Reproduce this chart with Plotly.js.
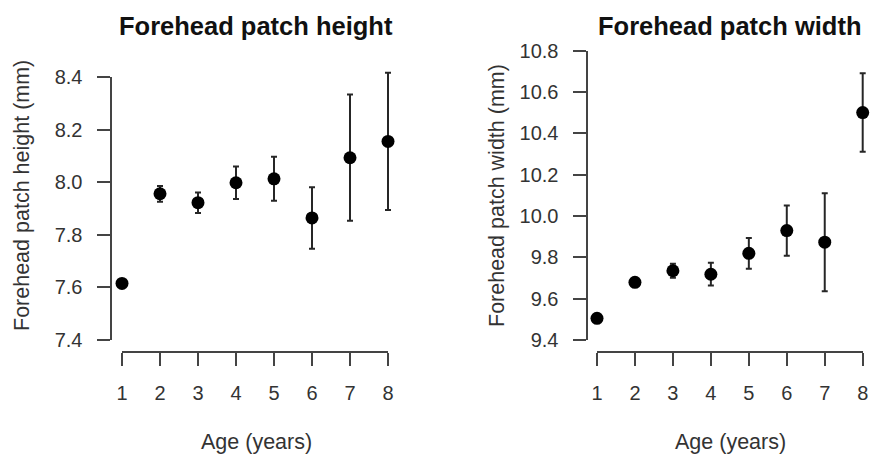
<!DOCTYPE html>
<html>
<head>
<meta charset="utf-8">
<script src="https://cdn.plot.ly/plotly-3.0.1.min.js"></script>
<style>html,body{margin:0;padding:0;background:#fff;}#chart{width:871px;height:457px;}</style>
</head>
<body>
<div id="chart"></div>
<script>
// ---- data ----
var ages = [1, 2, 3, 4, 5, 6, 7, 8];
var ageTickLabels = ['1', '2', '3', '4', '5', '6', '7', '8'];
var heightMean = [7.615, 7.956, 7.922, 7.998, 8.013, 7.864, 8.093, 8.155];
var heightErr  = [0.012, 0.030, 0.039, 0.062, 0.084, 0.117, 0.240, 0.261];
var widthMean  = [9.505, 9.679, 9.735, 9.718, 9.819, 9.929, 9.873, 10.500];
var widthErr   = [0.008, 0.012, 0.034, 0.055, 0.074, 0.122, 0.237, 0.190];
var heightTicks = [7.4, 7.6, 7.8, 8.0, 8.2, 8.4];
var widthTicks  = [9.4, 9.6, 9.8, 10.0, 10.2, 10.4, 10.6, 10.8];
var panelTitles = ['Forehead patch height', 'Forehead patch width'];
var yTitles = ['Forehead patch height (mm)', 'Forehead patch width (mm)'];
var xTitle = 'Age (years)';

// ---- layout helpers ----
var W = 871, H = 457;
function px(x) { return x / W; }
function py(y) { return 1 - y / H; }
var FONT = 'Liberation Sans, Arial, Helvetica, sans-serif';
var AX = '#444';

// linear pixel mapping helpers for panel geometry (R-style detached axes)
function panel(x1px, x8px, yLoPx, yHiPx, lo, hi, padL, padR, padY) {
  var ux = (x8px - x1px) / 7, uy = (yLoPx - yHiPx) / (hi - lo);
  return {
    axis: {x: [x1px, x8px], y: [yHiPx, yLoPx], xr: [1, 8], yr: [lo, hi]},
    data: {
      x: [x1px - padL * ux, x8px + padR * ux], xr: [1 - padL, 8 + padR],
      y: [yHiPx - padY * uy, yLoPx + padY * uy], yr: [lo - padY, hi + padY]
    }
  };
}
var P1 = panel(122, 388, 340, 77, heightTicks[0], heightTicks[heightTicks.length - 1], 0.3, 0.3, 0.1);
var P2 = panel(597, 862.7, 340, 50.5, widthTicks[0], widthTicks[widthTicks.length - 1], 0.3, 0.2, 0.1);

function dataTrace(xa, ya, yv, ev) {
  return {
    type: 'scatter', mode: 'markers', x: ages, y: yv, xaxis: xa, yaxis: ya,
    cliponaxis: false, showlegend: false, hoverinfo: 'x+y',
    marker: {color: '#000', size: 13},
    error_y: {type: 'data', array: ev, visible: true, color: '#262626', thickness: 2, width: 3}
  };
}
// invisible companion trace so the detached axis subplot is built
function axisTrace(xa, ya, yv) {
  return {
    type: 'scatter', mode: 'markers', x: ages, y: yv, xaxis: xa, yaxis: ya,
    marker: {opacity: 0}, hoverinfo: 'skip', showlegend: false
  };
}

function hiddenAx(dom, rng, isX) {
  return {
    domain: isX ? [px(dom[0]), px(dom[1])] : [py(dom[1]), py(dom[0])],
    range: rng, visible: false, fixedrange: true
  };
}
function xAx(p) {
  return {
    domain: [px(p.x[0]), px(p.x[1])], range: p.xr, anchor: 'free', position: py(352),
    showline: true, linecolor: AX, linewidth: 2, showgrid: false, zeroline: false,
    tickmode: 'array', tickvals: ages, ticktext: ageTickLabels,
    ticks: 'outside', ticklen: 13, tickwidth: 2, tickcolor: AX,
    ticklabelstandoff: 10,
    tickfont: {family: FONT, size: 20, color: '#333'}, fixedrange: true
  };
}
function yAx(p, xpos, tv) {
  return {
    domain: [py(p.y[1]), py(p.y[0])], range: p.yr, anchor: 'free', position: px(xpos),
    showline: true, linecolor: AX, linewidth: 2, showgrid: false, zeroline: false,
    tickmode: 'array', tickvals: tv, ticktext: tv.map(function (v) { return v.toFixed(1); }),
    ticks: 'outside', ticklen: 13, tickwidth: 2, tickcolor: AX,
    ticklabelstandoff: 10,
    tickfont: {family: FONT, size: 20, color: '#333'}, fixedrange: true
  };
}

var data = [
  axisTrace('x3', 'y3', heightMean),
  axisTrace('x4', 'y4', widthMean),
  dataTrace('x', 'y', heightMean, heightErr),
  dataTrace('x2', 'y2', widthMean, widthErr)
];

function ann(text, x, y, size, bold, angle) {
  return {
    text: bold ? '<b>' + text + '</b>' : text, xref: 'paper', yref: 'paper',
    x: px(x), y: py(y), xanchor: 'center', yanchor: 'middle', showarrow: false,
    textangle: angle || 0,
    font: {family: FONT, size: size, color: bold ? '#111' : '#333'}
  };
}

var layout = {
  width: W, height: H,
  margin: {l: 0, r: 0, t: 0, b: 0},
  paper_bgcolor: '#fff', plot_bgcolor: 'rgba(0,0,0,0)',
  xaxis: hiddenAx(P1.data.x, P1.data.xr, true),
  yaxis: hiddenAx(P1.data.y, P1.data.yr, false),
  xaxis2: hiddenAx(P2.data.x, P2.data.xr, true),
  yaxis2: hiddenAx(P2.data.y, P2.data.yr, false),
  xaxis3: xAx(P1.axis),
  yaxis3: yAx(P1.axis, 110.5, heightTicks),
  xaxis4: xAx(P2.axis),
  yaxis4: yAx(P2.axis, 586.5, widthTicks),
  annotations: [
    ann(panelTitles[0], 256, 26, 25.5, true),
    ann(panelTitles[1], 730, 26, 25.5, true),
    ann(yTitles[0], 22, 196, 21.5, false, -90),
    ann(yTitles[1], 497, 196, 21.5, false, -90),
    ann(xTitle, 256, 442, 21.5, false),
    ann(xTitle, 730, 442, 21.5, false)
  ],
  showlegend: false
};

Plotly.newPlot('chart', data, layout, {displayModeBar: false, staticPlot: true});
</script>
</body>
</html>
